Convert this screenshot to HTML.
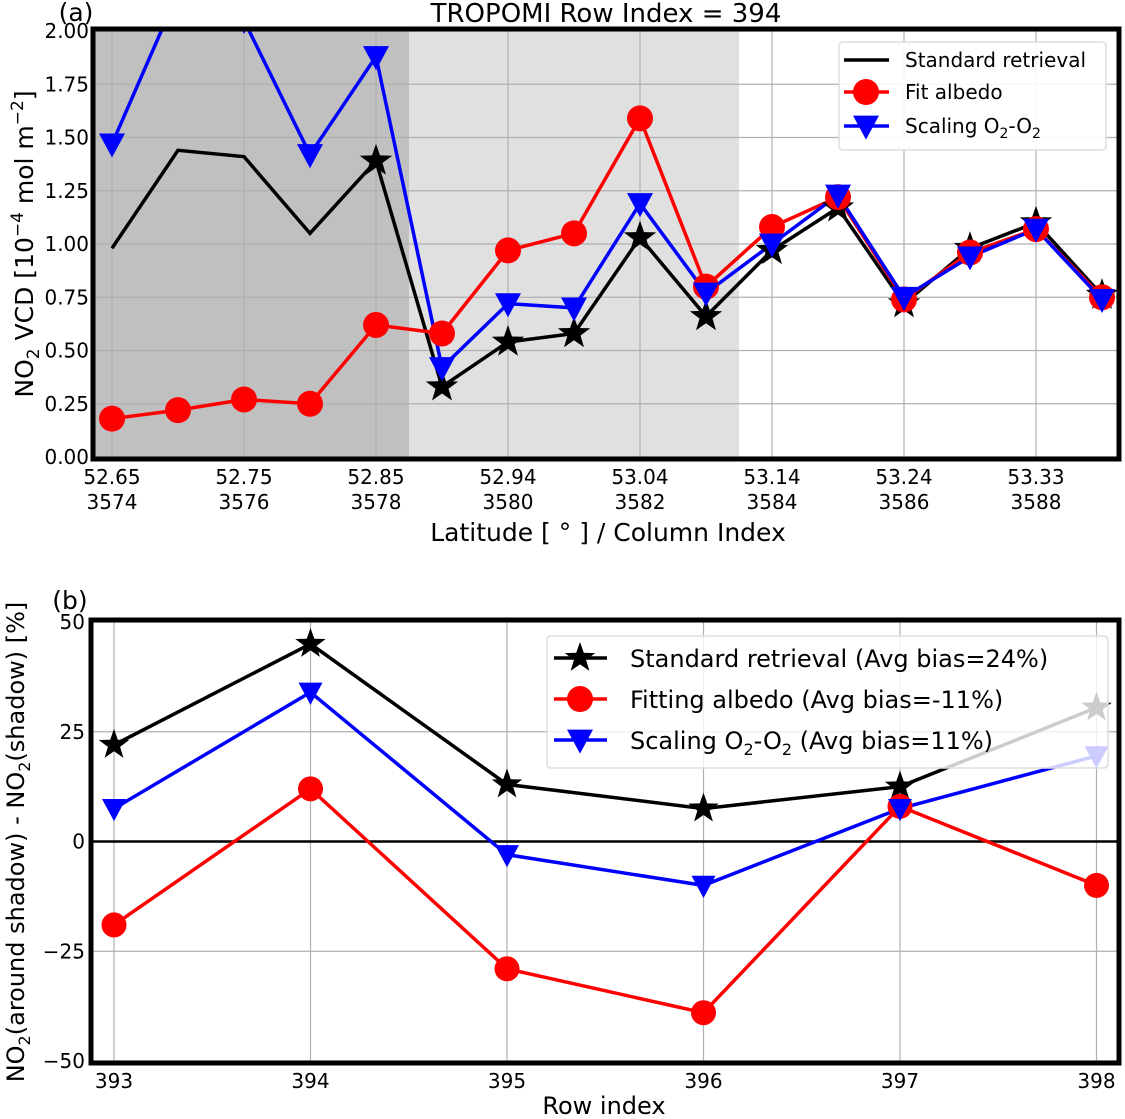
<!DOCTYPE html>
<html><head><meta charset="utf-8"><style>
body{margin:0;background:#fff}
svg{display:block;font-family:"DejaVu Sans","Liberation Sans",sans-serif}
</style></head><body>
<svg id="c" width="1125" height="1119" viewBox="0 0 1125 1119" xmlns="http://www.w3.org/2000/svg"></svg>
<script>
// Panel (a) data: column index 3574..3589
const colIdx = [3574,3575,3576,3577,3578,3579,3580,3581,3582,3583,3584,3585,3586,3587,3588,3589];
const stdVals = [0.98,1.44,1.41,1.05,1.39,0.33,0.54,0.58,1.03,0.66,0.97,1.17,0.72,0.98,1.10,0.76];
const fitVals = [0.18,0.22,0.27,0.25,0.62,0.58,0.97,1.05,1.59,0.80,1.08,1.22,0.74,0.96,1.07,0.75];
const o2Vals  = [1.47,2.18,2.05,1.42,1.88,0.42,0.72,0.70,1.19,0.77,1.00,1.23,0.75,0.94,1.07,0.74];
const aXTickIdx = [3574,3576,3578,3580,3582,3584,3586,3588];
const aXTickLat = ["52.65","52.75","52.85","52.94","53.04","53.14","53.24","53.33"];
const aYTicks = [0,0.25,0.5,0.75,1.0,1.25,1.5,1.75,2.0];
// Panel (b) data
const rows = [393,394,395,396,397,398];
const bStd = [22,45,13,7.5,12.5,30.5];
const bFit = [-19,12,-29,-39,8,-10];
const bO2  = [7.5,34,-3,-10,7.5,19.5];
const bYTicks = [-50,-25,0,25,50];

const NS="http://www.w3.org/2000/svg";
const svg=document.getElementById('c');
function mk(tag,attrs,parent,name,inter){const e=document.createElementNS(NS,tag);for(const k in attrs)e.setAttribute(k,attrs[k]);(parent||svg).appendChild(e);


return e;}
function txt(x,y,s,size,anchor,parent,name){const t=mk('text',{x:x,y:y,'font-size':size,'text-anchor':anchor||'middle',fill:'#000'},parent,name);t.innerHTML=s;return t;}
function star(cx,cy,r,fill,parent,name){let p=[];for(let i=0;i<10;i++){const a=-Math.PI/2+i*Math.PI/5;const rr=i%2?r*0.4:r;p.push((cx+rr*Math.cos(a)).toFixed(1)+','+(cy+rr*Math.sin(a)).toFixed(1));}return mk('polygon',{points:p.join(' '),fill:fill},parent,name);}
function tri(cx,cy,r,fill,parent,name){return mk('polygon',{points:`${cx-r},${cy-r*0.8} ${cx+r},${cy-r*0.8} ${cx},${cy+r*1.05}`,fill:fill},parent,name);}

// ---------- Panel A ----------
const A={l:95,r:1117,t:31,b:457};
const ax=i=>112+(i-3574)*66;
const ay=v=>A.b-(v/2.0)*(A.b-A.t);
const gA=mk('g',{},svg,'panel-a');
mk('defs',{},svg,'defs').innerHTML=`<clipPath id="clipA"><rect x="${A.l}" y="${A.t}" width="${A.r-A.l}" height="${A.b-A.t}"/></clipPath><clipPath id="clipB"><rect x="93" y="622" width="1024" height="440"/></clipPath>`;
mk('rect',{x:A.l,y:A.t,width:ax(3578.5)-A.l,height:A.b-A.t,fill:'#c0c0c0'},gA,'shadow-region');
mk('rect',{x:ax(3578.5),y:A.t,width:ax(3583.5)-ax(3578.5),height:A.b-A.t,fill:'#e0e0e0'},gA,'shadow-adjacent-region');
aYTicks.forEach(v=>{mk('line',{x1:A.l,x2:A.r,y1:ay(v),y2:ay(v),stroke:'#b0b0b0','stroke-width':1.2},gA,'grid-y');
 txt(A.l-6,ay(v)+7,v.toFixed(2),20,'end',gA,'y-tick-label');});
aXTickIdx.forEach((c,i)=>{mk('line',{x1:ax(c),x2:ax(c),y1:A.t,y2:A.b,stroke:'#b0b0b0','stroke-width':1.2},gA,'grid-x');
 txt(ax(c),A.b+27,aXTickLat[i],20,'middle',gA,'x-tick-label-lat');txt(ax(c),A.b+52,String(c),20,'middle',gA,'x-tick-label-col');});
const cA=mk('g',{'clip-path':'url(#clipA)'},gA,'series-a');
function poly(xs,ys,color,parent,name,w){return mk('polyline',{points:xs.map((x,i)=>x+','+ys[i]).join(' '),fill:'none',stroke:color,'stroke-width':w||3.5,'stroke-linejoin':'miter'},parent,name);}
poly(colIdx.map(ax),stdVals.map(ay),'#000',cA,'standard-line');
poly(colIdx.map(ax),fitVals.map(ay),'#f00',cA,'fit-albedo-line');
poly(colIdx.map(ax),o2Vals.map(ay),'#00f',cA,'scaling-o2o2-line');
colIdx.forEach((c,i)=>{
 if(c>=3578) star(ax(c),ay(stdVals[i]),17,'#000',cA,'standard-point');
 mk('circle',{cx:ax(c),cy:ay(fitVals[i]),r:13,fill:'#f00'},cA,'fit-albedo-point');
 tri(ax(c),ay(o2Vals[i]),13,'#00f',cA,'scaling-o2o2-point');
});
mk('rect',{x:A.l-2,y:A.t-2,width:A.r-A.l+4,height:A.b-A.t+4,fill:'none',stroke:'#000','stroke-width':5},gA,'frame-a');
txt(606,22,'TROPOMI Row Index = 394',26,'middle',gA,'title-a');
txt(76,21,'(a)',25,'middle',gA,'panel-label-a');
txt(608,541,'Latitude [ ° ] / Column Index',25,'middle',gA,'x-axis-title-a');
const ylA=mk('text',{transform:'translate(33,244) rotate(-90)','font-size':25,'text-anchor':'middle'},gA,'y-axis-title-a');
ylA.innerHTML='NO<tspan font-size="17" dy="6">2</tspan><tspan dy="-6"> VCD [10</tspan><tspan font-size="17" dy="-10">−4</tspan><tspan dy="10"> mol m</tspan><tspan font-size="17" dy="-10">−2</tspan><tspan dy="10">]</tspan>';
// legend A
const lgA=mk('g',{},gA,'legend-a');
mk('rect',{x:839,y:42,width:267,height:108,rx:4,fill:'#fff','fill-opacity':0.9,stroke:'#ddd','stroke-width':1.5},lgA,'legend-box-a');
mk('line',{x1:844,x2:889,y1:60,y2:60,stroke:'#000','stroke-width':3.5},lgA,'legend-standard-line');
txt(905,67,'Standard retrieval',20,'start',lgA,'legend-standard-label');
mk('line',{x1:844,x2:889,y1:92,y2:92,stroke:'#f00','stroke-width':3.5},lgA,'legend-fit-line');
mk('circle',{cx:866,cy:92,r:13,fill:'#f00'},lgA,'legend-fit-marker');
txt(905,99,'Fit albedo',20,'start',lgA,'legend-fit-label');
mk('line',{x1:844,x2:889,y1:126,y2:126,stroke:'#00f','stroke-width':3.5},lgA,'legend-o2-line');
tri(866,126,13,'#00f',lgA,'legend-o2-marker');
txt(905,133,'Scaling O<tspan font-size="14" dy="5">2</tspan><tspan dy="-5">-O</tspan><tspan font-size="14" dy="5">2</tspan>',20,'start',lgA,'legend-o2-label');

// ---------- Panel B ----------
const B={l:93,r:1117,t:622,b:1061};
const bx=r=>114+(r-393)*196.5;
const by=v=>B.b-(v+50)/100*(B.b-B.t);
const gB=mk('g',{},svg,'panel-b');
bYTicks.forEach(v=>{mk('line',{x1:B.l,x2:B.r,y1:by(v),y2:by(v),stroke:'#b0b0b0','stroke-width':1.2},gB,'grid-y');
 txt(B.l-8,by(v)+7,v<0?'−'+(-v):String(v),20,'end',gB,'y-tick-label');});
rows.forEach(r=>{mk('line',{x1:bx(r),x2:bx(r),y1:B.t,y2:B.b,stroke:'#b0b0b0','stroke-width':1.2},gB,'grid-x');
 txt(bx(r),B.b+27,String(r),20,'middle',gB,'x-tick-label');});
mk('line',{x1:B.l,x2:B.r,y1:by(0),y2:by(0),stroke:'#000','stroke-width':2.5},gB,'zero-line');
const cB=mk('g',{'clip-path':'url(#clipB)'},gB,'series-b');
poly(rows.map(bx),bStd.map(by),'#000',cB,'standard-line');
poly(rows.map(bx),bFit.map(by),'#f00',cB,'fit-albedo-line');
poly(rows.map(bx),bO2.map(by),'#00f',cB,'scaling-o2o2-line');
rows.forEach((r,i)=>{
 star(bx(r),by(bStd[i]),16,'#000',cB,'standard-point');
 mk('circle',{cx:bx(r),cy:by(bFit[i]),r:12.5,fill:'#f00'},cB,'fit-albedo-point');
 tri(bx(r),by(bO2[i]),12,'#00f',cB,'scaling-o2o2-point');
});
const lgB=mk('g',{},gB,'legend-b');
mk('rect',{x:547,y:636,width:561,height:132,rx:4,fill:'#fff','fill-opacity':0.8,stroke:'#ddd','stroke-width':1.5},lgB,'legend-box-b');
mk('line',{x1:554,x2:607,y1:658,y2:658,stroke:'#000','stroke-width':3.5},lgB,'legend-standard-line');
star(580,658,16,'#000',lgB,'legend-standard-marker');
txt(630,667,'Standard retrieval (Avg bias=24%)',24,'start',lgB,'legend-standard-label');
mk('line',{x1:554,x2:607,y1:699,y2:699,stroke:'#f00','stroke-width':3.5},lgB,'legend-fit-line');
mk('circle',{cx:580,cy:699,r:13,fill:'#f00'},lgB,'legend-fit-marker');
txt(630,708,'Fitting albedo (Avg bias=-11%)',24,'start',lgB,'legend-fit-label');
mk('line',{x1:554,x2:607,y1:740,y2:740,stroke:'#00f','stroke-width':3.5},lgB,'legend-o2-line');
tri(580,740,13,'#00f',lgB,'legend-o2-marker');
txt(630,749,'Scaling O<tspan font-size="16" dy="6">2</tspan><tspan dy="-6">-O</tspan><tspan font-size="16" dy="6">2</tspan><tspan dy="-6"> (Avg bias=11%)</tspan>',24,'start',lgB,'legend-o2-label');
mk('rect',{x:B.l-2,y:B.t-2,width:B.r-B.l+4,height:B.b-B.t+4,fill:'none',stroke:'#000','stroke-width':5},gB,'frame-b');
txt(70,609,'(b)',25,'middle',gB,'panel-label-b');
txt(604,1114,'Row index',24,'middle',gB,'x-axis-title-b');
const ylB=mk('text',{transform:'translate(24,842) rotate(-90)','font-size':24,'text-anchor':'middle'},gB,'y-axis-title-b');
ylB.innerHTML='NO<tspan font-size="16" dy="6">2</tspan><tspan dy="-6">(around shadow) - NO</tspan><tspan font-size="16" dy="6">2</tspan><tspan dy="-6">(shadow) [%]</tspan>';
</script>
</body></html>
